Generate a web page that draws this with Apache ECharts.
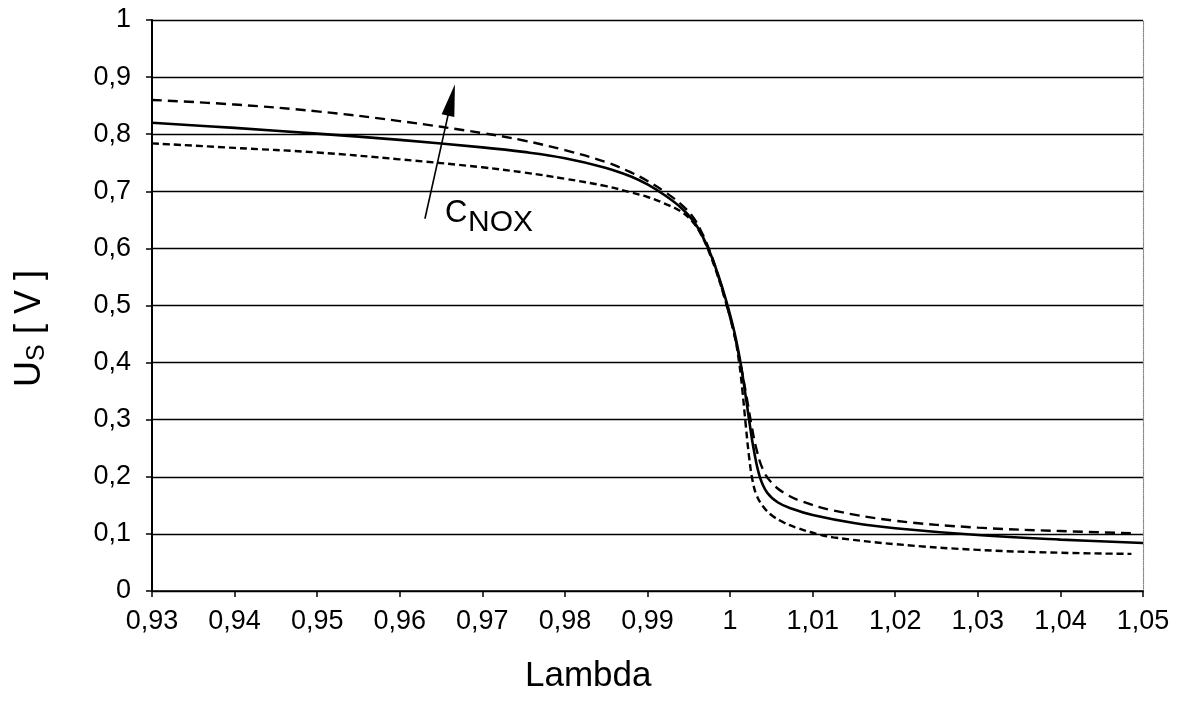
<!DOCTYPE html>
<html>
<head>
<meta charset="utf-8">
<script src="https://cdn.jsdelivr.net/npm/echarts@6/dist/echarts.min.js"></script>
<style>
html,body{margin:0;padding:0;background:#fff;}
#chart{width:1183px;height:706px;}
</style>
</head>
<body>
<div id="chart"></div>
<script>
// ---- data ----
var xTickLabels = ['0,93','0,94','0,95','0,96','0,97','0,98','0,99','1','1,01','1,02','1,03','1,04','1,05'];
var yTickLabels = ['0','0,1','0,2','0,3','0,4','0,5','0,6','0,7','0,8','0,9','1'];

var solidX = [0.93, 0.94, 0.95, 0.96, 0.97, 0.975, 0.98, 0.985, 0.988, 0.99, 0.992, 0.994, 0.9955, 0.9965, 0.9975, 0.9985, 0.9995, 1.0005, 1.0012, 1.0018, 1.0023, 1.0029, 1.0036, 1.0045, 1.0058, 1.0075, 1.01, 1.015, 1.02, 1.03, 1.04, 1.05];
var solidY = [0.820, 0.811, 0.801, 0.790, 0.777, 0.769, 0.758, 0.741, 0.726, 0.712, 0.694, 0.672, 0.649, 0.626, 0.595, 0.556, 0.510, 0.455, 0.405, 0.350, 0.300, 0.245, 0.200, 0.172, 0.155, 0.144, 0.133, 0.119, 0.110, 0.098, 0.090, 0.084];

var upperX = [0.93, 0.94, 0.95, 0.96, 0.97, 0.975, 0.98, 0.985, 0.988, 0.99, 0.992, 0.994, 0.9955, 0.9965, 0.9975, 0.9985, 0.9995, 1.0005, 1.0013, 1.002, 1.0026, 1.0032, 1.004, 1.005, 1.0065, 1.0085, 1.0125, 1.02, 1.03, 1.04, 1.049];
var upperY = [0.860, 0.852, 0.840, 0.823, 0.802, 0.789, 0.772, 0.751, 0.733, 0.718, 0.700, 0.678, 0.655, 0.630, 0.597, 0.555, 0.505, 0.450, 0.395, 0.340, 0.290, 0.248, 0.212, 0.190, 0.172, 0.158, 0.141, 0.123, 0.111, 0.105, 0.101];

var lowerX = [0.93, 0.94, 0.95, 0.96, 0.97, 0.975, 0.98, 0.985, 0.988, 0.99, 0.992, 0.994, 0.9955, 0.9965, 0.9975, 0.9985, 0.9995, 1.0005, 1.0011, 1.0015, 1.0019, 1.0023, 1.0027, 1.0032, 1.004, 1.005, 1.0065, 1.008, 1.0105, 1.0125, 1.02, 1.03, 1.04, 1.0486];
var lowerY = [0.784, 0.776, 0.768, 0.756, 0.742, 0.733, 0.722, 0.709, 0.698, 0.690, 0.679, 0.665, 0.646, 0.624, 0.592, 0.552, 0.505, 0.450, 0.400, 0.350, 0.290, 0.235, 0.195, 0.168, 0.148, 0.133, 0.120, 0.111, 0.100, 0.094, 0.082, 0.072, 0.067, 0.065];

// arrow annotation (data coordinates): tail -> head (head = centre of arrowhead)
var arrowTail = [0.96305, 0.652];
var arrowHead = [0.96626, 0.860];

function zip(xs, ys){ var out=[]; for(var i=0;i<xs.length;i++) out.push([xs[i], ys[i]]); return out; }

var FONT = '"Liberation Sans", Arial, sans-serif';
var chart = echarts.init(document.getElementById('chart'), null, {renderer:'canvas'});

var option = {
  animation: false,
  backgroundColor: '#fff',
  grid: {left: 152, right: 40, top: 20, bottom: 115, containLabel: false},
  xAxis: {
    type: 'value', min: 0.93, max: 1.05, interval: 0.01,
    axisLine: {show: true, onZero: false, lineStyle: {color: '#000', width: 1.6}},
    axisTick: {show: true, length: 6, lineStyle: {color: '#000', width: 1.5}},
    axisLabel: {
      color: '#000', fontSize: 27, fontFamily: FONT, margin: 17,
      formatter: function(v){ var i = Math.round((v - 0.93) / 0.01); return xTickLabels[i] || ''; }
    },
    splitLine: {show: false}
  },
  yAxis: [{
    type: 'value', min: 0, max: 1, interval: 0.1,
    axisLine: {show: true, lineStyle: {color: '#000', width: 2}},
    axisTick: {show: true, length: 6, lineStyle: {color: '#000', width: 1.5}},
    axisLabel: {
      color: '#000', fontSize: 27, fontFamily: FONT, margin: 21,
      formatter: function(v){ return yTickLabels[Math.round(v * 10)] || ''; }
    },
    splitLine: {show: true, lineStyle: {color: '#000', width: 1.3}}
  }, {
    type: 'value', min: 0, max: 1, interval: 0.1, position: 'right',
    axisLine: {show: true, lineStyle: {color: '#888', width: 1.2, type: 'dotted'}},
    axisTick: {show: false}, axisLabel: {show: false}, splitLine: {show: false}
  }],
  series: [
    {
      name: 'upper', type: 'line', data: zip(upperX, upperY),
      showSymbol: false, smooth: 0.4,
      lineStyle: {color: '#000', width: 2.4, type: [10, 6]}
    },
    {
      name: 'lower', type: 'line', data: zip(lowerX, lowerY),
      showSymbol: false, smooth: 0.4,
      lineStyle: {color: '#000', width: 2.4, type: [7, 4]}
    },
    {
      name: 'mid', type: 'line', data: zip(solidX, solidY),
      showSymbol: false, smooth: 0.4,
      lineStyle: {color: '#000', width: 2.6, type: 'solid'},
      markLine: {
        silent: true, animation: false,
        symbol: ['none', 'triangle'], symbolSize: [13, 32],
        label: {show: false},
        itemStyle: {color: '#000'},
        lineStyle: {color: '#000', width: 1.6, type: 'solid'},
        data: [[{coord: arrowTail}, {coord: arrowHead}]]
      }
    }
  ],
  graphic: [
    {type: 'text', left: 445, top: 198, style: {text: 'C', font: '31px ' + FONT, fill: '#000'}},
    {type: 'text', left: 468, top: 208, style: {text: 'NOX', font: '30px ' + FONT, fill: '#000'}},
    {type: 'text', left: 525, top: 659, style: {text: 'Lambda', font: '35px ' + FONT, fill: '#000'}},
    {
      type: 'group', x: 30, y: 387, rotation: Math.PI / 2,
      children: [
        {type: 'text', x: 0, y: 0, style: {text: 'U', font: '36px ' + FONT, fill: '#000', verticalAlign: 'middle'}},
        {type: 'text', x: 26, y: 7, style: {text: 'S', font: '25px ' + FONT, fill: '#000', verticalAlign: 'middle'}},
        {type: 'text', x: 43, y: 0, style: {text: ' [ V ]', font: '36px ' + FONT, fill: '#000', verticalAlign: 'middle'}}
      ]
    }
  ]
};
chart.setOption(option);
</script>
</body>
</html>
